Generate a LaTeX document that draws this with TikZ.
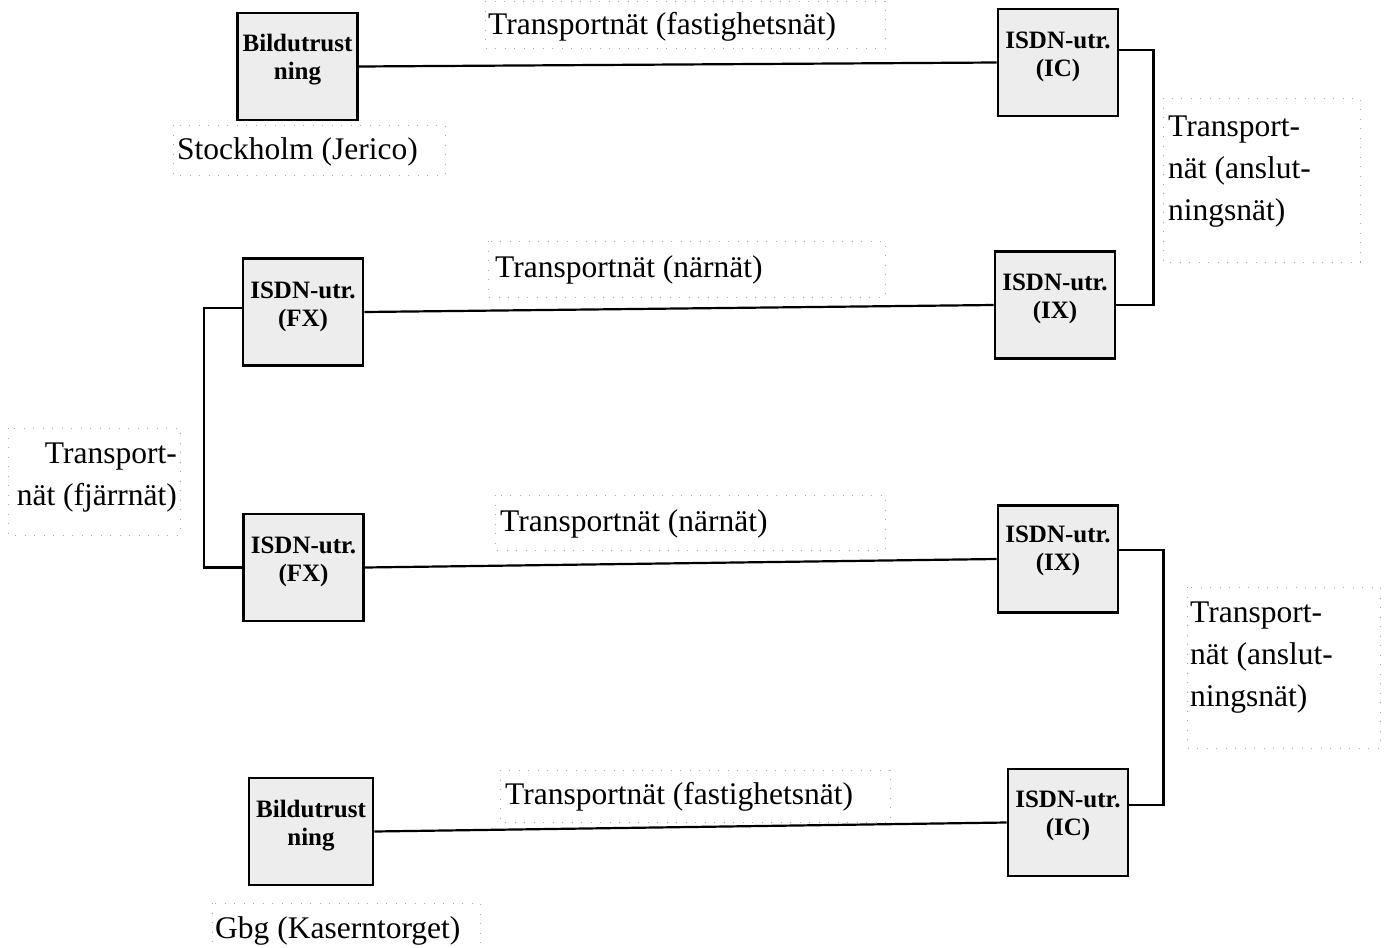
\documentclass[tikz,border=0pt]{standalone}
\usepackage{fontspec}
\setmainfont{Liberation Serif}
\begin{document}
\begin{tikzpicture}[x=1pt,y=-1pt,
  box/.style={draw=black, line width=2.9pt, fill=black!7, rectangle,
    minimum width=120pt, minimum height=107pt, inner sep=0pt},
  boxtext/.style={font=\fontsize{25}{28}\selectfont\bfseries, align=center, inner sep=0pt},
  wire/.style={draw=black, line width=2.2pt},
  lbl/.style={font=\fontsize{31.5}{42}\selectfont, inner sep=0pt},
  frame/.style={draw=black!35, line width=1pt, dash pattern=on 1pt off 8.5pt}]
\useasboundingbox (0,0) rectangle (1385,948);

% dotted text frames
\draw[frame] (485,1) rectangle (885,48);
\draw[frame] (173,125) rectangle (445,175);
\draw[frame] (1163,98) rectangle (1360,262);
\draw[frame] (488,241) rectangle (885,297);
\draw[frame] (8,428) rectangle (180,535);
\draw[frame] (495,495) rectangle (885,550);
\draw[frame] (1187,587) rectangle (1380,748);
\draw[frame] (500,770) rectangle (890,822);
\draw[frame] (212,903) rectangle (480,960);

% equipment boxes
\node[box] (b1)  at (297.5,66.5) {};
\node[boxtext,yshift=7pt] (b1t) at (b1) {Bildutrust\\ning};
\node[box] (ic1) at (1058,62.5) {};
\node[boxtext,yshift=6pt] (ic1t) at (ic1) {ISDN-utr.\\(IC)};
\node[box] (fx1) at (303,312) {};
\node[boxtext,yshift=5pt] (fx1t) at (fx1) {ISDN-utr.\\(FX)};
\node[box] (ix1) at (1055,305) {};
\node[boxtext,yshift=6pt] (ix1t) at (ix1) {ISDN-utr.\\(IX)};
\node[box] (fx2) at (303.5,567.5) {};
\node[boxtext,yshift=6pt] (fx2t) at (fx2) {ISDN-utr.\\(FX)};
\node[box] (ix2) at (1058,559) {};
\node[boxtext,yshift=8pt] (ix2t) at (ix2) {ISDN-utr.\\(IX)};
\node[box,minimum width=124pt] (b2) at (311,831.5) {};
\node[boxtext,yshift=6pt] (b2t) at (b2) {Bildutrust\\ning};
\node[box] (ic2) at (1068,822.5) {};
\node[boxtext,yshift=7pt] (ic2t) at (ic2) {ISDN-utr.\\(IC)};

% connections
\draw[wire] (b1.east) -- (ic1.west);
\draw[wire] ([yshift=12.5pt]ic1.east) -| ([xshift=37pt]ix1.east) -- (ix1.east);
\draw[wire] (fx1.east) -- (ix1.west);
\draw[wire] ([yshift=4pt]fx1.west) -| ([xshift=-38pt]fx2.west) -- (fx2.west);
\draw[wire] (fx2.east) -- (ix2.west);
\draw[wire] ([yshift=9pt]ix2.east) -| ([xshift=34pt,yshift=17.5pt]ic2.east) -- ([yshift=17.5pt]ic2.east);
\draw[wire] (b2.east) -- (ic2.west);

% labels
\node[lbl,anchor=west] (l1) at (488,27) {Transportnät (fastighetsnät)};
\node[lbl,anchor=west] (l2) at (177,152) {Stockholm (Jerico)};
\node[lbl,anchor=west,align=left] (l3) at (1168,172) {Transport-\\nät (anslut-\\ningsnät)};
\node[lbl,anchor=west] (l4) at (495,270) {Transportnät (närnät)};
\node[lbl,anchor=east,align=right] (l5) at (177,478) {Transport-\\nät (fjärrnät)};
\node[lbl,anchor=west] (l6) at (500,524) {Transportnät (närnät)};
\node[lbl,anchor=west,align=left] (l7) at (1190,658) {Transport-\\nät (anslut-\\ningsnät)};
\node[lbl,anchor=west] (l8) at (505,797) {Transportnät (fastighetsnät)};
\node[lbl,anchor=west] (l9) at (215,931) {Gbg (Kaserntorget)};
\end{tikzpicture}
\end{document}
